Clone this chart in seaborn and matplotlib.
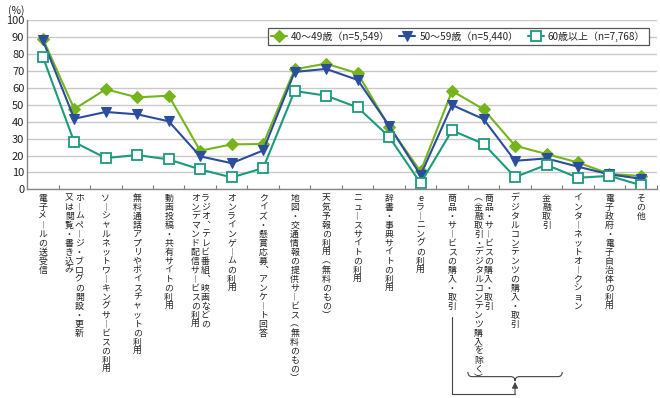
import numpy as np
import pandas as pd
import matplotlib
matplotlib.use("Agg")
import matplotlib.pyplot as plt
import matplotlib.transforms as mtransforms
from matplotlib.path import Path
from matplotlib.patches import PathPatch
import seaborn as sns


# Configuration
sns.set_theme(style="whitegrid")
plt.rcParams["font.family"] = ["Noto Sans CJK JP", "DejaVu Sans"]

# Data
categories = [
    ["電子メールの送受信"],
    ["ホームページ・ブログの開設・更新", "又は閲覧・書き込み"],
    ["ソーシャルネットワーキングサービスの利用"],
    ["無料通話アプリやボイスチャットの利用"],
    ["動画投稿・共有サイトの利用"],
    ["ラジオ、テレビ番組、映画などの", "オンデマンド配信サービスの利用"],
    ["オンラインゲームの利用"],
    ["クイズ・懸賞応募、アンケート回答"],
    ["地図・交通情報の提供サービス（無料のもの）"],
    ["天気予報の利用（無料のもの）"],
    ["ニュースサイトの利用"],
    ["辞書・事典サイトの利用"],
    ["eラーニングの利用"],
    ["商品・サービスの購入・取引"],
    ["商品・サービスの購入・取引", "（金融取引・デジタルコンテンツ購入を除く）"],
    ["デジタルコンテンツの購入・取引"],
    ["金融取引"],
    ["インターネットオークション"],
    ["電子政府・電子自治体の利用"],
    ["その他"],
]

series_names = ["40～49歳（n=5,549）", "50～59歳（n=5,440）", "60歳以上（n=7,768）"]

age_40s = [89.0, 47.4, 59.1, 54.3, 55.3, 22.8, 26.6, 26.8, 70.9, 74.2,
           68.5, 37.0, 10.6, 58.1, 47.3, 25.8, 20.9, 15.9, 9.2, 7.9]
age_50s = [88.0, 41.7, 45.7, 44.3, 40.2, 19.5, 15.5, 23.0, 69.3, 71.1,
           64.6, 37.6, 8.4, 49.8, 41.5, 16.9, 18.3, 13.4, 8.9, 6.3]
age_60plus = [78.3, 27.9, 18.5, 20.3, 17.7, 11.8, 7.1, 12.6, 58.1, 55.3,
              48.4, 31.1, 3.7, 34.8, 26.9, 7.3, 14.5, 6.9, 8.0, 2.5]

y_ticks = list(range(0, 101, 10))

# vertical presentation forms for stacked (tategaki) labels
VERTICAL = {"ー": "︱", "（": "︵", "）": "︶", "、": "︑"}


def vertical_text(s: str) -> str:
    return "\n".join(VERTICAL.get(c, c) for c in s)


def main() -> None:
    fig = plt.figure(figsize=(6.6, 3.98), dpi=100)
    ax = fig.add_axes([0.041, 0.524, 0.954, 0.426])

    x = np.arange(len(categories))
    styles = [
        dict(color="#76b41c", marker="D", markersize=6, markerfacecolor="#76b41c"),
        dict(color="#2a4d9e", marker="v", markersize=7, markerfacecolor="#2a4d9e"),
        dict(color="#1c9a7c", marker="s", markersize=6.5, markerfacecolor="white",
             markeredgewidth=1.3),
    ]
    for name, values, st in zip(series_names, [age_40s, age_50s, age_60plus], styles):
        df = pd.DataFrame({"x": x, "value": values})
        sns.lineplot(data=df, x="x", y="value", ax=ax, label=name,
                     linewidth=1.5, markeredgecolor=st["color"], **st)

    ax.set_xlim(-0.5, len(categories) - 0.5)
    ax.set_ylim(0, 100)
    ax.set_yticks(y_ticks)
    ax.set_xticks(np.arange(len(categories) + 1) - 0.5)
    ax.set_xticklabels([])
    ax.tick_params(axis="x", direction="in", length=3, color="#777777", width=0.8,
                   bottom=True)
    ax.tick_params(axis="y", labelsize=8, pad=2, length=0, labelcolor="#222222")
    ax.set_xlabel("")
    ax.set_ylabel("")
    ax.grid(axis="x", visible=False)
    ax.grid(axis="y", color="#c9c9c9", linewidth=1)
    for side in ["top", "right"]:
        ax.spines[side].set_visible(False)
    for side in ["left", "bottom"]:
        ax.spines[side].set_visible(True)
        ax.spines[side].set_color("#888888")
        ax.spines[side].set_linewidth(1)

    fig.text(0.012, 0.988, "(%)", fontsize=7.5, va="top", ha="left", color="#222222")

    # vertical category labels
    for i, cols in enumerate(categories):
        n = len(cols)
        for j, col in enumerate(cols):
            dx = ((n - 1) / 2 - j) * 7.2
            ax.annotate(vertical_text(col), xy=(i, 0), xycoords=("data", "axes fraction"),
                        xytext=(dx, -3), textcoords="offset points",
                        ha="center", va="top", fontsize=6.4, linespacing=1.0,
                        color="#222222", annotation_clip=False)

    # brace + connector under the purchase labels
    trans = mtransforms.blended_transform_factory(ax.transData, ax.transAxes)
    y0, y1, y2 = -1.076, -1.104, -1.13
    verts = [(13.5, y0), (13.5, y1), (13.64, y1), (14.86, y1), (15.0, y1), (15.0, y2),
             (15.0, y1), (15.14, y1), (16.36, y1), (16.5, y1), (16.5, y0)]
    codes = [Path.MOVETO, Path.CURVE3, Path.CURVE3, Path.LINETO, Path.CURVE3, Path.CURVE3,
             Path.CURVE3, Path.CURVE3, Path.LINETO, Path.CURVE3, Path.CURVE3]
    ax.add_patch(PathPatch(Path(verts, codes), transform=trans, fill=False,
                           edgecolor="#444444", linewidth=0.8, clip_on=False))
    ax.plot([15, 13, 13], [-1.205, -1.205, -0.755], transform=trans, color="#444444",
            linewidth=0.8, clip_on=False)
    ax.annotate("", xy=(15, y2 - 0.005), xycoords=trans, xytext=(15, -1.205),
                textcoords=trans, annotation_clip=False,
                arrowprops=dict(arrowstyle="-|>,head_length=0.3,head_width=0.15",
                                color="#444444", linewidth=0.8, shrinkA=0, shrinkB=0))

    leg = ax.legend(loc="upper right", bbox_to_anchor=(0.987, 0.953), ncol=3,
                    fontsize=7.2, frameon=True, fancybox=False, edgecolor="#555555",
                    framealpha=1, borderpad=0.35, borderaxespad=0, handlelength=1.6,
                    handletextpad=0.4, columnspacing=0.9)
    leg.get_frame().set_linewidth(0.9)

    fig.savefig("out.png", dpi=100)
    plt.close(fig)


if __name__ == "__main__":
    main()
